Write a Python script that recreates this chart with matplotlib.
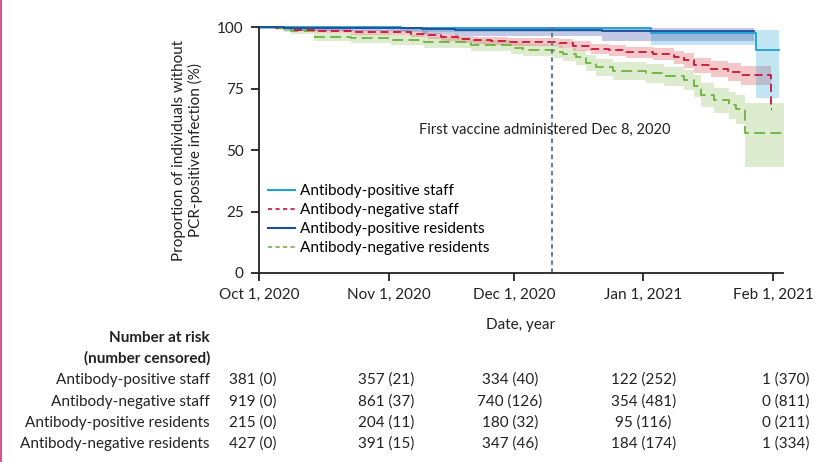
import numpy as np
import matplotlib
matplotlib.use("Agg")
import matplotlib.pyplot as plt
from matplotlib.lines import Line2D
from matplotlib.transforms import blended_transform_factory

plt.rcParams['font.family'] = ['Lato', 'DejaVu Sans']

# days since Oct 1, 2020
tick_days = [0, 31, 61, 92, 123]
tick_labels = ['Oct 1, 2020', 'Nov 1, 2020', 'Dec 1, 2020', 'Jan 1, 2021', 'Feb 1, 2021']
vaccine_day = 70

# antibody-positive staff
pos_staff_t = [0, 34, 93.8, 119]
pos_staff_v = [100, 99.6, 97.4, 90.8]
pos_staff_lo = [99.3, 97.8, 92.8, 71.0]
pos_staff_hi = [100, 100, 98.8, 98.8]
pos_staff_end = 124.4

# antibody-negative staff
neg_staff_t = [0, 4.1, 7.7, 13.2, 22, 31.6, 36.4, 40.4, 43.5, 47.6, 51.4, 55.5, 59.6,
               71.8, 75.1, 79.4, 83.7, 87.8, 94.3, 99.3, 101.7, 104.1, 108.1, 112.2, 115.3, 122.5]
neg_staff_v = [100, 99.5, 98.9, 98.3, 97.9, 97.8, 97.3, 96.6, 95.9, 95.1, 94.7, 94.3, 93.9,
               93.5, 92.4, 91.2, 90.5, 89.7, 89.0, 87.8, 86.5, 84.6, 83.0, 81.7, 80.5, 66.7]
neg_staff_lo = [100, 99.0, 98.2, 97.4, 96.9, 96.7, 96.1, 95.3, 94.5, 93.6, 93.1, 92.6, 92.1,
                91.6, 90.4, 89.1, 88.2, 87.3, 86.4, 85.0, 83.5, 81.4, 79.6, 78.0, 76.3, 66.7]
neg_staff_hi = [100, 99.9, 99.5, 99.1, 98.8, 98.7, 98.3, 97.7, 97.1, 96.4, 96.1, 95.8, 95.5,
                95.2, 94.2, 93.2, 92.6, 91.9, 91.4, 90.4, 89.3, 87.6, 86.2, 85.2, 84.3, 66.7]
neg_staff_end = 122.8

# antibody-positive residents
pos_res_t = [0, 6, 39, 47, 82]
pos_res_v = [100, 99.7, 99.3, 98.7, 98.2]
pos_res_lo = [99.0, 98.2, 97.3, 96.4, 94.4]
pos_res_hi = [100, 100, 100, 99.9, 99.6]
pos_res_end = 118.4

# antibody-negative residents
neg_res_t = [0, 4.1, 6.0, 7.7, 13.2, 22, 31.6, 39.5, 50.7, 60.3, 63.2, 70.6, 72.7, 75.8,
             78.2, 80.6, 84.7, 92.6, 96.9, 101.7, 104.1, 105.7, 108.9, 112.4, 114.1, 116.3]
neg_res_v = [100, 99.5, 99.0, 98.4, 96.0, 95.5, 94.9, 93.9, 92.8, 91.5, 90.8, 90.0, 89.0, 87.8,
             85.4, 83.6, 82.3, 81.3, 80.0, 78.5, 76.0, 72.5, 70.5, 68.3, 66.7, 57.0]
neg_res_lo = [100, 98.8, 98.0, 97.2, 94.3, 93.6, 92.8, 91.6, 90.3, 88.9, 88.1, 87.2, 86.1, 84.7,
              82.1, 80.1, 78.6, 77.4, 75.9, 74.2, 71.4, 67.5, 65.2, 62.6, 60.6, 43.0]
neg_res_hi = [100, 99.9, 99.6, 99.3, 97.4, 97.1, 96.6, 95.8, 94.9, 93.8, 93.2, 92.5, 91.6, 90.6,
              88.5, 86.9, 85.7, 84.9, 83.8, 82.5, 80.3, 77.2, 75.4, 73.5, 72.3, 69.0]
neg_res_end = 125.6

groups = ['Antibody-positive staff', 'Antibody-negative staff',
          'Antibody-positive residents', 'Antibody-negative residents']
at_risk = [['381 (0)', '357 (21)', '334 (40)', '122 (252)', '1 (370)'],
           ['919 (0)', '861 (37)', '740 (126)', '354 (481)', '0 (811)'],
           ['215 (0)', '204 (11)', '180 (32)', '95 (116)', '0 (211)'],
           ['427 (0)', '391 (15)', '347 (46)', '184 (174)', '1 (334)']]

series = [
    (neg_res_t, neg_res_v, neg_res_lo, neg_res_hi, neg_res_end, '#6db33f', '#7cb342', 0.26, (0, (6, 3))),
    (neg_staff_t, neg_staff_v, neg_staff_lo, neg_staff_hi, neg_staff_end, '#c8143c', '#e06060', 0.34, (0, (4.5, 2.5))),
    (pos_staff_t, pos_staff_v, pos_staff_lo, pos_staff_hi, pos_staff_end, '#1ea0d2', '#1a9fd0', 0.27, '-'),
    (pos_res_t, pos_res_v, pos_res_lo, pos_res_hi, pos_res_end, '#1a4f9c', '#3a4fa8', 0.3, '-'),
]

fs = 11
fig = plt.figure(figsize=(8.15, 4.62), dpi=100)
ax = fig.add_axes([259 / 815, 1 - 273 / 462, (783 - 259) / 815, (273 - 27) / 462])

for t, v, lo, hi, end, lc, fc, a, ls in series:
    tt = np.append(t, end)
    ax.fill_between(tt, np.append(lo, lo[-1]), np.append(hi, hi[-1]), step='post',
                    color=fc, alpha=a, lw=0)
for t, v, lo, hi, end, lc, fc, a, ls in series:
    tt = np.append(t, end)
    ax.step(tt, np.append(v, v[-1]), where='post', color=lc, lw=1.3, ls=ls, clip_on=False)

ax.axvline(vaccine_day, color='#5b7384', lw=1.3, ls=(0, (2.5, 2)))
ax.text(vaccine_day - 1.5, 58, 'First vaccine administered Dec 8, 2020', ha='center', va='center',
        fontsize=10.5, color='#222222')

handles = [Line2D([], [], color='#1ea0d2', lw=1.5),
           Line2D([], [], color='#c8143c', lw=1.2, ls=(0, (2.5, 2))),
           Line2D([], [], color='#1a4f9c', lw=1.5),
           Line2D([], [], color='#6db33f', lw=1.2, ls=(0, (2.5, 2)))]
ax.legend(handles, groups, loc='upper left', bbox_to_anchor=(0.005, 0.385), frameon=False,
          fontsize=fs, handlelength=1.8, handletextpad=0.3, labelspacing=0.32, borderaxespad=0)

ax.set_xlim(0, 125.4)
ax.set_ylim(0, 100)
ax.set_xticks(tick_days)
ax.set_xticklabels(tick_labels)
ax.set_yticks([0, 25, 50, 75, 100])
ax.tick_params(labelsize=fs, length=6, width=1.3, colors='#222222', pad=5)
for s in ['top', 'right']:
    ax.spines[s].set_visible(False)
for s in ['left', 'bottom']:
    ax.spines[s].set_linewidth(1.3)
    ax.spines[s].set_color('#222222')
ax.set_xlabel('Date, year', fontsize=fs, color='#222222', labelpad=11)
ax.set_ylabel('Proportion of individuals without\nPCR-positive infection (%)', fontsize=fs,
              color='#222222', labelpad=10, linespacing=1.2)

# number at risk table
fig.text(210 / 815, 1 - 338 / 462, 'Number at risk', ha='right', va='center', fontsize=fs,
         fontweight='bold', color='#222222')
fig.text(210 / 815, 1 - 358 / 462, '(number censored)', ha='right', va='center', fontsize=fs,
         fontweight='bold', color='#222222')
row_y = [380, 402, 423, 444]
col_day = [-1.5, 30.5, 60, 92, 126]
tr = blended_transform_factory(ax.transData, fig.transFigure)
for name, vals, y in zip(groups, at_risk, row_y):
    fig.text(210 / 815, 1 - y / 462, name, ha='right', va='center', fontsize=fs, color='#222222')
    for d, s in zip(col_day, vals):
        ax.text(d, 1 - y / 462, s, transform=tr, ha='center', va='center', fontsize=fs,
                color='#222222', clip_on=False)

fig.add_artist(Line2D([0.0015, 0.0015], [0, 1], transform=fig.transFigure, color='#d9578a', lw=1.5))

fig.savefig('out.png', dpi=100)
